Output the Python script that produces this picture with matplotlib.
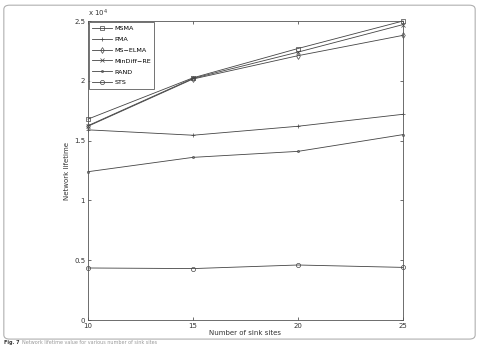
import matplotlib.pyplot as plt
from matplotlib.patches import FancyBboxPatch
from matplotlib.ticker import FuncFormatter

# data
sinks = [10, 15, 20, 25]
msma = [16800, 20250, 22700, 25000]
pma = [15900, 15450, 16200, 17200]
ms_elma = [16200, 20150, 22100, 23800]
mindiff_re = [16250, 20200, 22400, 24700]
rand = [12400, 13600, 14100, 15500]
sts = [4350, 4300, 4600, 4400]

labels = ['MSMA', 'PMA', 'MS\u2212ELMA', 'MinDiff\u2212RE', 'RAND', 'STS']
series = [msma, pma, ms_elma, mindiff_re, rand, sts]
markers = ['s', '+', 'd', 'x', '.', 'o']

fig = plt.figure(figsize=(4.79, 3.46), dpi=100)

# light rounded frame around the figure
frame = FancyBboxPatch((0.008, 0.02), 0.984, 0.965, boxstyle='round,pad=0,rounding_size=0.012',
                       transform=fig.transFigure, facecolor='none', edgecolor='#b0b0b0',
                       lw=0.8, zorder=-1)
fig.patches.append(frame)

ax = fig.add_axes([0.1837, 0.0751, 0.6576, 0.8642])
line_col = '#444444'
for vals, lab, m in zip(series, labels, markers):
    ax.plot(sinks, vals, color=line_col, lw=0.6, marker=m, markersize=3,
            markerfacecolor='none', markeredgewidth=0.5, label=lab, clip_on=False)

ax.set_xlim(10, 25)
ax.set_ylim(0, 25000)
ax.set_xticks([10, 15, 20, 25])
ax.set_yticks([0, 5000, 10000, 15000, 20000, 25000])
ax.yaxis.set_major_formatter(FuncFormatter(lambda v, p: '%g' % (v / 1e4)))
ax.tick_params(direction='in', length=2, width=0.5, labelsize=5, colors='#333333',
               top=True, right=True, pad=2)
for s in ax.spines.values():
    s.set_linewidth(0.6)
    s.set_color('#555555')

ax.text(0.0, 1.008, 'x 10$^4$', transform=ax.transAxes, fontsize=5, color='#333333',
        ha='left', va='bottom')
ax.set_xlabel('Number of sink sites', fontsize=5, color='#333333', labelpad=1)
ax.set_ylabel('Network lifetime', fontsize=5, color='#333333', labelpad=3)

leg = ax.legend(loc='upper left', fontsize=4.6, frameon=True, fancybox=False,
                borderaxespad=0.2, handlelength=3, labelspacing=0.85, borderpad=0.5,
                handletextpad=0.4)
leg.get_frame().set_edgecolor('#333333')
leg.get_frame().set_linewidth(0.6)

fig.text(0.008, 0.003, 'Fig. 7', fontsize=3.5, fontweight='bold', color='#333333',
         ha='left', va='bottom')
fig.text(0.045, 0.003, 'Network lifetime value for various number of sink sites', fontsize=3.5,
         color='#999999', ha='left', va='bottom')

fig.savefig('out.png', dpi=100)
